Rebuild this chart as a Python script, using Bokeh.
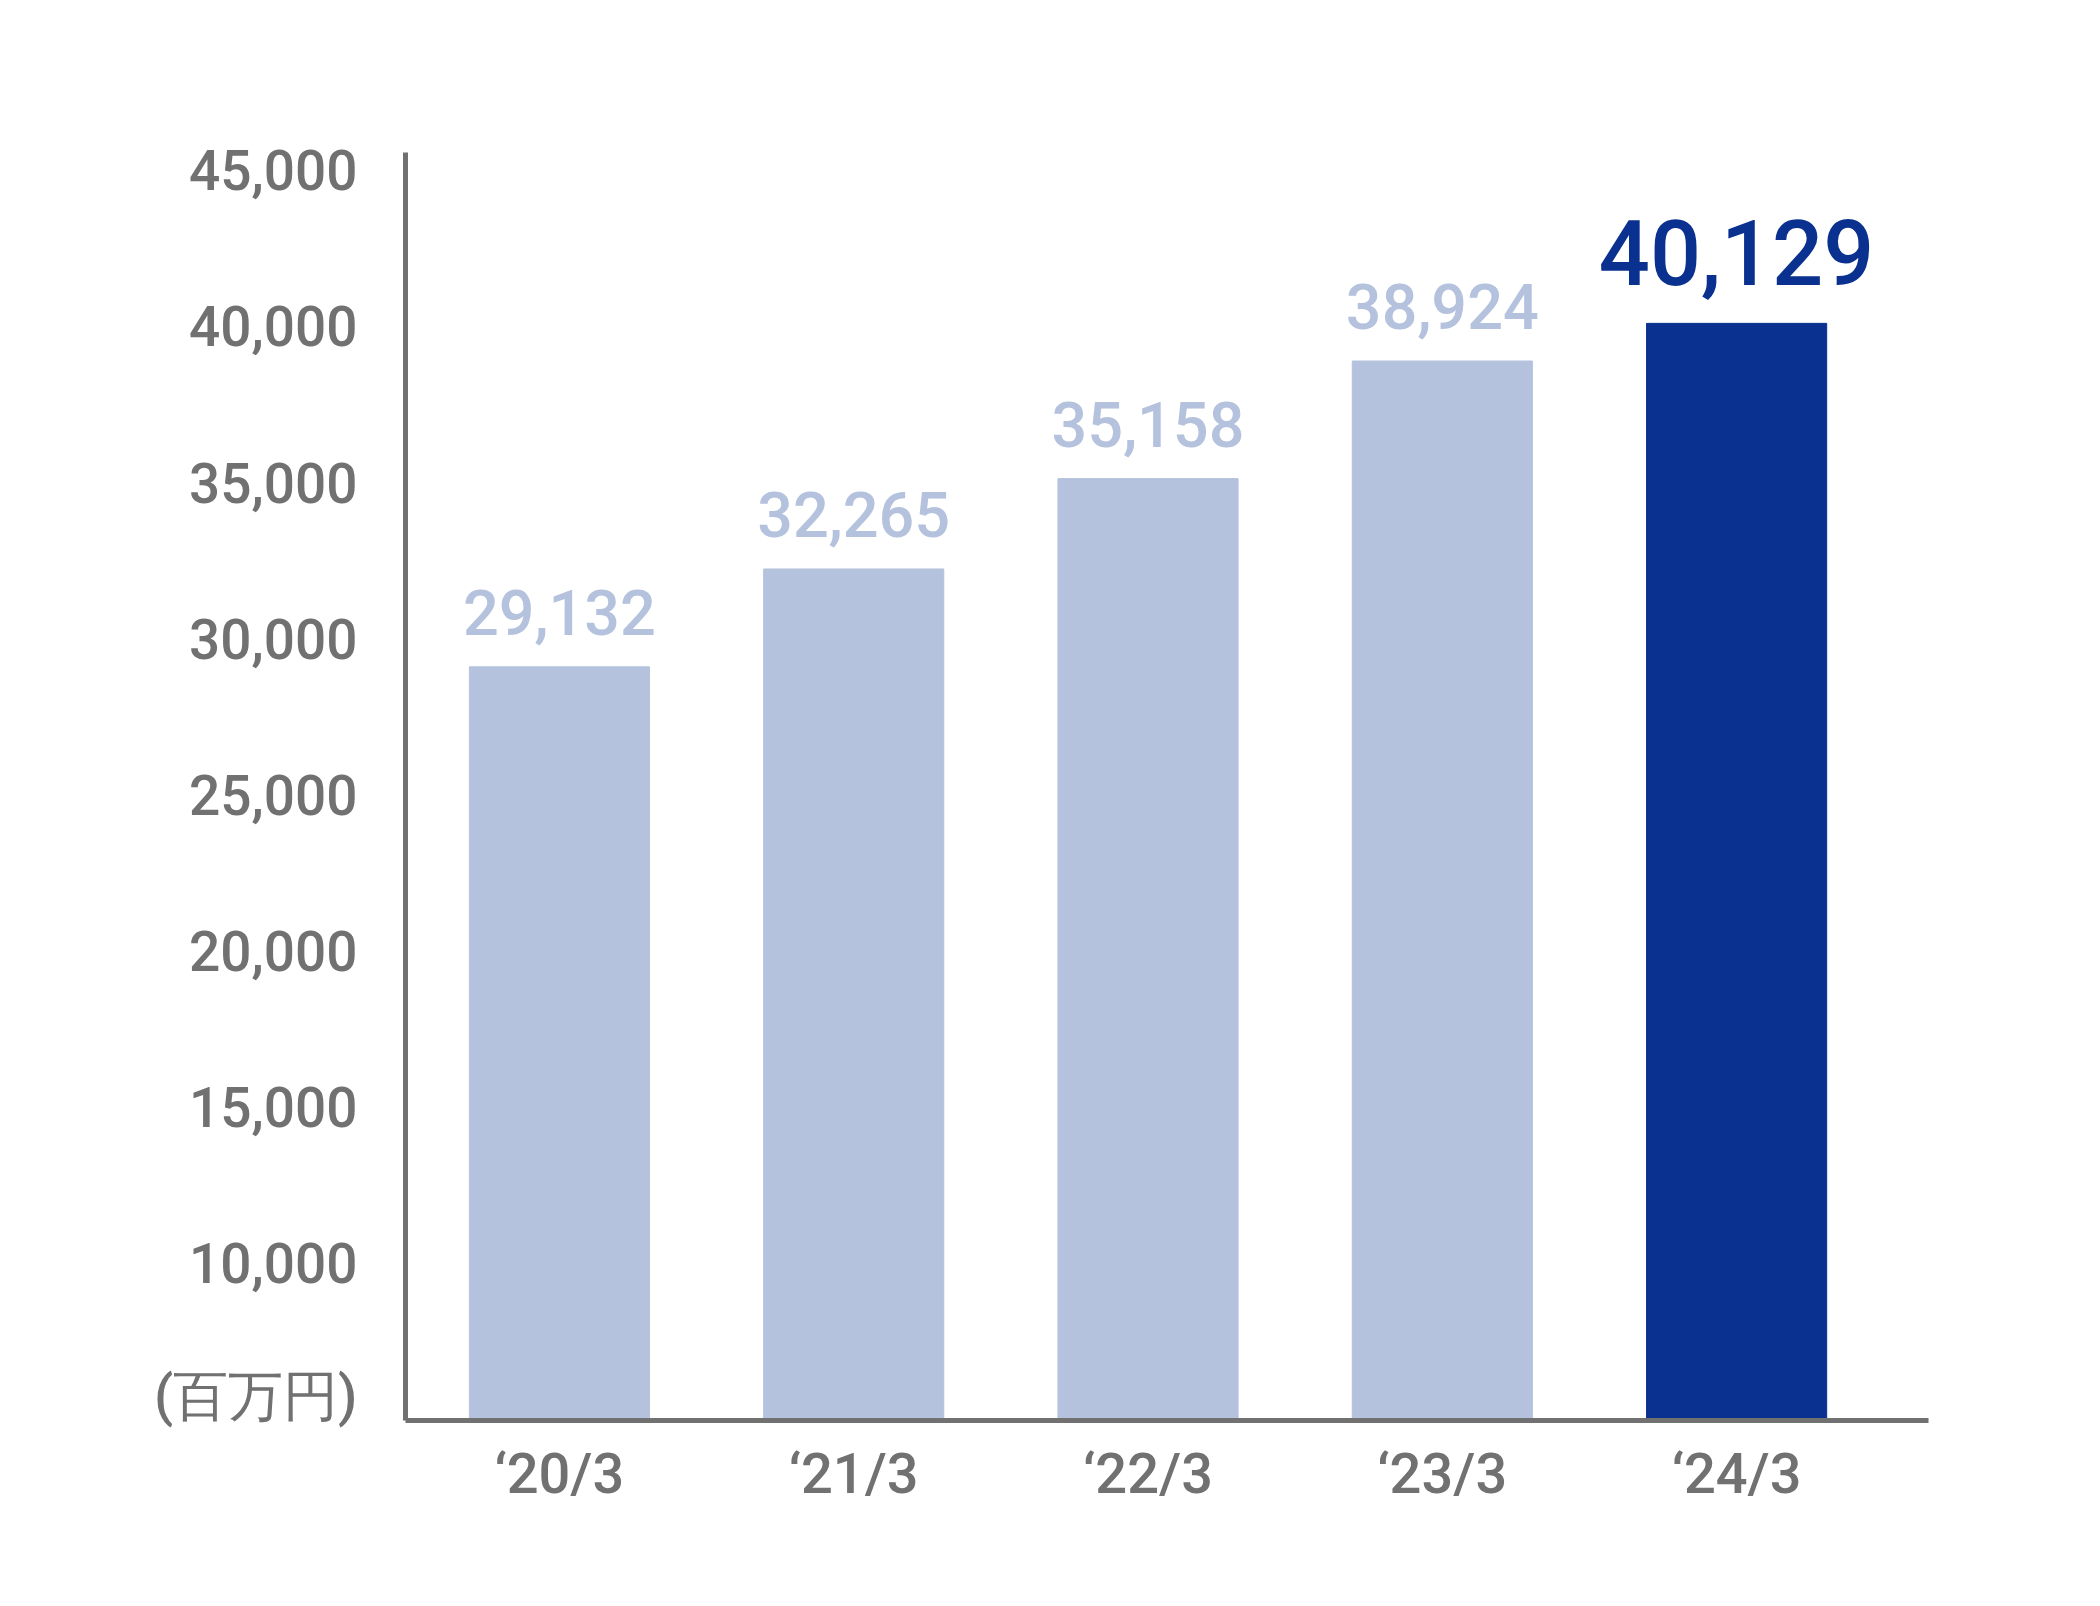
from bokeh.plotting import figure
from bokeh.models import (Range1d, FixedTicker, ColumnDataSource, LabelSet)
from bokeh.core.properties import value
from bokeh.embed import file_html
from bokeh.resources import INLINE

categories = ["‘20/3", "‘21/3", "‘22/3", "‘23/3", "‘24/3"]
values = [29132, 32265, 35158, 38924, 40129]
value_labels = ["29,132", "32,265", "35,158", "38,924", "40,129"]
y_ticks = [10000, 15000, 20000, 25000, 30000, 35000, 40000, 45000]
y_tick_labels = ["10,000", "15,000", "20,000", "25,000", "30,000", "35,000", "40,000", "45,000"]
unit_label = "(百万円)"
unit_pos = 5800

LIGHT = "#B4C2DD"
DARK = "#0A318F"
GRAY = "#717171"
FONT = "Roboto Medium, Roboto"
BASE = 5000

xs = list(range(len(categories)))
colors = [LIGHT] * (len(values) - 1) + [DARK]

src = ColumnDataSource(dict(x=xs, top=values, color=colors, label=value_labels))
light_src = ColumnDataSource(dict(x=xs[:-1], top=values[:-1], label=value_labels[:-1]))
dark_src = ColumnDataSource(dict(x=xs[-1:], top=values[-1:], label=value_labels[-1:]))

p = figure(width=2084, height=1590, output_backend="svg", toolbar_location=None,
           x_range=Range1d(-0.523, 4.652), y_range=Range1d(BASE, 45600),
           min_border_left=405, min_border_top=152, min_border_right=156,
           min_border_bottom=170)
p.outline_line_color = None
p.xgrid.grid_line_color = None
p.ygrid.grid_line_color = None
p.background_fill_color = "white"
p.border_fill_color = "white"

p.vbar(x="x", top="top", bottom=BASE, width=0.612, color="color", source=src)

# axes
for ax in (p.xaxis[0], p.yaxis[0]):
    ax.axis_line_color = GRAY
    ax.axis_line_width = 5
    ax.major_tick_line_color = None
    ax.minor_tick_line_color = None
    ax.major_tick_out = 0
    ax.major_tick_in = 0
    ax.major_label_text_color = GRAY
    ax.major_label_text_font = FONT

p.yaxis.ticker = FixedTicker(ticks=[unit_pos] + y_ticks)
p.yaxis.major_label_overrides = dict([(unit_pos, unit_label)] +
                                     list(zip(y_ticks, y_tick_labels)))
p.yaxis.major_label_text_font_size = "55px"
p.yaxis.major_label_standoff = 48

p.xaxis.ticker = FixedTicker(ticks=xs)
p.xaxis.major_label_overrides = {i: c for i, c in zip(xs, categories)}
p.xaxis.major_label_text_font_size = "56px"
p.xaxis.major_label_standoff = 20

p.add_layout(LabelSet(x="x", y="top", text="label", source=light_src, y_offset=32,
                      text_align="center", text_baseline="alphabetic",
                      text_color=LIGHT, text_font=value(FONT),
                      text_font_size=value("63px")))
p.add_layout(LabelSet(x="x", y="top", text="label", source=dark_src, y_offset=38,
                      text_align="center", text_baseline="alphabetic",
                      text_color=DARK, text_font=value(FONT),
                      text_font_size=value("90px"), text_font_style="bold"))

open("out.html", "w").write(file_html(p, INLINE))
